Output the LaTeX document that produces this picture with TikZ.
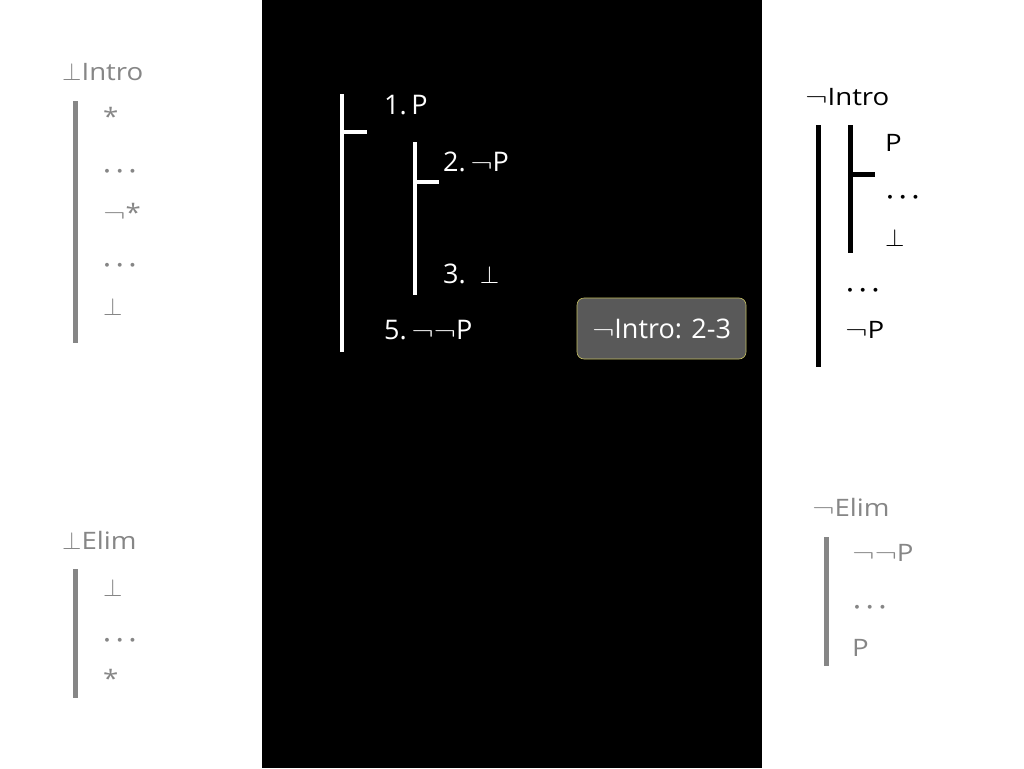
\documentclass[tikz,border=0pt]{standalone}
\usepackage{fontspec}
\setmainfont[FakeStretch=1.15]{Open Sans}
\newfontfamily\cfont{Open Sans}
\newcommand{\myneg}{\scalebox{1.35}[1]{$\neg$}}
\newcommand{\mydots}{\mbox{\boldmath$\cdots$}}
\begin{document}
\begin{tikzpicture}[x=1pt,y=-1pt,
  gtxt/.style={text=gray!95!white, font=\fontsize{24}{28}\selectfont, anchor=west, inner sep=0pt},
  btxt/.style={text=black, font=\fontsize{24}{28}\selectfont, anchor=west, inner sep=0pt},
  wtxt/.style={text=white, font=\cfont\fontsize{27}{30}\selectfont, anchor=west, inner sep=0pt},
  gbar/.style={draw=gray!95!white, line width=5pt},
  bbar/.style={draw=black, line width=5pt},
  wbar/.style={draw=white, line width=4pt}]
\useasboundingbox (0,0) rectangle (1024,768);
\fill[white] (0,0) rectangle (1024,768);
\fill[black] (262,0) rectangle (762,768);

% Left top: bot intro
\node[gtxt] (li) at (62,72) {$\bot$Intro};
\coordinate (lia) at (75,101); \coordinate (lib) at (75,343);
\draw[gbar] (lia) -- (lib);
\node[gtxt] (li1) at (103,116) {*};
\node[gtxt] (li2) at (103,172) {\mydots};
\node[gtxt] (li3) at (103,212) {\myneg*};
\node[gtxt] (li4) at (103,266) {\mydots};
\node[gtxt] (li5) at (103,307) {$\bot$};

% Left bottom: bot elim
\node[gtxt] (le) at (62,540) {$\bot$Elim};
\coordinate (lea) at (75,569); \coordinate (leb) at (75,698);
\draw[gbar] (lea) -- (leb);
\node[gtxt] (le1) at (103,588) {$\bot$};
\node[gtxt] (le2) at (103,641) {\mydots};
\node[gtxt] (le3) at (103,678) {*};

% Centre proof
\coordinate (oa) at (342,94); \coordinate (ob) at (342,352);
\draw[wbar] (oa) -- (ob);
\coordinate (ot) at (342,132); \coordinate (ote) at (367,132);
\draw[wbar] (ot) -- (ote);
\coordinate (ia) at (415,142); \coordinate (ib) at (415,295);
\draw[wbar] (ia) -- (ib);
\coordinate (it) at (415,182); \coordinate (ite) at (439,182);
\draw[wbar] (it) -- (ite);
\node[wtxt] (c1) at (384,105) {1.\,P};
\node[wtxt] (c2) at (443,162) {2.\,\myneg P};
\node[wtxt] (c3) at (443,274) {3.\ \ $\bot$};
\node[wtxt] (c5) at (384,330) {5.\,\myneg\myneg P};

% Label box
\node[draw=yellow!50!gray, fill=gray!70!black, rounded corners=7pt, line width=0.6pt,
      minimum width=169pt, minimum height=61pt] (box) at (661.5,328.5) {};
\node[text=white, font=\cfont\fontsize{27}{30}\selectfont, inner sep=0pt] (boxt) at (box.center) {\myneg Intro: 2-3};

% Right top: neg intro
\node[btxt] (ri) at (805,97) {\myneg Intro};
\coordinate (roa) at (818,125); \coordinate (rob) at (818,367);
\draw[bbar] (roa) -- (rob);
\coordinate (ria) at (850,125); \coordinate (rib) at (850,253);
\draw[bbar] (ria) -- (rib);
\coordinate (rt) at (850,174); \coordinate (rte) at (875,174);
\draw[bbar] (rt) -- (rte);
\node[btxt] (r1) at (885,143) {P};
\node[btxt] (r2) at (886,198) {\mydots};
\node[btxt] (r3) at (885,238) {$\bot$};
\node[btxt] (r4) at (846,291) {\mydots};
\node[btxt] (r5) at (845,330) {\myneg P};

% Right bottom: neg elim
\node[gtxt] (re) at (812,507) {\myneg Elim};
\coordinate (rea) at (826,537); \coordinate (reb) at (826,666);
\draw[gbar] (rea) -- (reb);
\node[gtxt] (re1) at (852,553) {\myneg\myneg P};
\node[gtxt] (re2) at (853,608) {\mydots};
\node[gtxt] (re3) at (852,648) {P};
\end{tikzpicture}
\end{document}
